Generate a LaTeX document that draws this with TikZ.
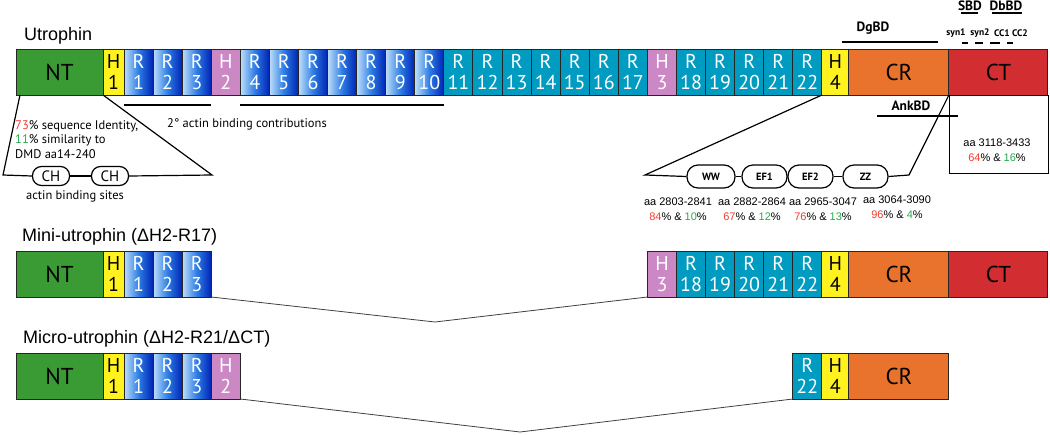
\documentclass[tikz,border=0pt]{standalone}
\usepackage{fontspec}
\setmainfont{Liberation Sans}
\newfontfamily\myriad{PT Sans}
\usetikzlibrary{positioning}

\definecolor{ntGreen}{RGB}{58,154,52}
\definecolor{hYellow}{RGB}{255,242,30}
\definecolor{hPink}{RGB}{204,136,196}
\definecolor{rTeal}{RGB}{0,155,192}
\definecolor{rLight}{RGB}{190,222,250}
\definecolor{rMid}{RGB}{45,125,228}
\definecolor{rDark}{RGB}{0,35,180}
\definecolor{crOrange}{RGB}{233,115,45}
\definecolor{ctRed}{RGB}{210,45,48}
\definecolor{pctRed}{RGB}{240,60,50}
\definecolor{pctGreen}{RGB}{40,170,80}

\newcommand{\idp}[1]{\textcolor{pctRed}{#1}}
\newcommand{\simp}[1]{\textcolor{pctGreen}{#1}}

\begin{document}
\begin{tikzpicture}[
    x=1pt, y=-1pt,
    dom/.style={draw=black!85, line width=1pt, inner sep=0pt, outer sep=0pt, anchor=north west,
        minimum height=46pt, align=center, font=\myriad\fontsize{20}{21}\selectfont},
    ntbox/.style={dom, fill=ntGreen, minimum width=87pt, font=\myriad\fontsize{23}{24}\selectfont},
    helix/.style={dom, fill=hYellow, minimum width=#1},
    hinge/.style={dom, fill=hPink, text=white, minimum width=29.08pt},
    rblue/.style={dom, left color=rLight, right color=rDark, middle color=rMid, text=white, minimum width=29.08pt},
    rteal/.style={dom, fill=rTeal, text=white, minimum width=29.08pt},
    crbox/.style={ntbox, fill=crOrange, minimum width=100pt},
    ctbox/.style={ntbox, fill=ctRed, minimum width=99pt},
    title/.style={anchor=west, inner sep=0pt, font=\fontsize{18}{20}\selectfont},
    note/.style={inner sep=0pt, font=\myriad\fontsize{12.5}{14.5}\selectfont},
    aanote/.style={inner sep=0pt, align=center, font=\fontsize{11}{15}\selectfont},
    module/.style={draw, line width=1.2pt, rounded corners=9pt, inner sep=0pt, minimum height=19pt, minimum width=37pt, font=\myriad\fontsize{15}{16}\selectfont},
    motif/.style={draw, line width=1.2pt, rounded corners=11pt, inner sep=0pt, minimum height=23pt, font=\myriad\bfseries\fontsize{10.5}{12}\selectfont},
    bd/.style={inner sep=0pt, font=\myriad\bfseries\fontsize{13.5}{15}\selectfont},
    subbd/.style={inner sep=0pt, font=\myriad\bfseries\fontsize{9.5}{10}\selectfont},
    fan/.style={line width=1.2pt},
    bar/.style={line width=2pt},
    joint/.style={draw=black!75, line width=0.8pt}
]
    \useasboundingbox (0,0) rectangle (1050,434);

    % full-length utrophin
    \node[title] (uTitle) at (24,36) {Utrophin};
    \node[ntbox] (uNT) at (16,49) {NT};
    \node[helix=21pt] (uH1) at (103,49) {H\\1};
    \foreach \lab/\num/\sty [count=\k] in {R/1/rblue, R/2/rblue, R/3/rblue, H/2/hinge,
        R/4/rblue, R/5/rblue, R/6/rblue, R/7/rblue, R/8/rblue, R/9/rblue, R/10/rblue,
        R/11/rteal, R/12/rteal, R/13/rteal, R/14/rteal, R/15/rteal, R/16/rteal, R/17/rteal,
        H/3/hinge, R/18/rteal, R/19/rteal, R/20/rteal, R/21/rteal, R/22/rteal}
        \node[\sty] (u\lab\num) at ({124+(\k-1)*29.08}, 49) {\lab\\\num};
    \node[helix=27pt] (uH4) at (uR22.north east) {H\\4};
    \node[crbox] (uCR) at (uH4.north east) {CR};
    \node[ctbox] (uCT) at (uCR.north east) {CT};

    % binding domains
    \node[bd] (dgbd) at (873,28) {DgBD};
    \draw[bar] (842,42) -- (938,42);
    \node[bd] (sbd) at (970,6) {SBD};
    \draw[bar] (961,13) -- (978,13);
    \node[bd] (dbbd) at (1006,6) {DbBD};
    \draw[bar] (992,13) -- (1022,13);
    \foreach \txt/\xc in {syn1/956, syn2/980, CC1/1002, CC2/1020}
        \node[subbd] (sub\txt) at (\xc,33) {\txt};
    \foreach \xa/\xb in {962/968, 975/983, 990/1000, 1007/1013}
        \draw[bar] (\xa,43) -- (\xb,43);
    \node[bd] (ankbd) at (911,106) {AnkBD};
    \draw[bar] (877,116) -- (958,116);

    % actin binding
    \draw[fan] ([yshift=-10pt]uR1.south west) -- ([yshift=-10pt]uR3.south east);
    \draw[fan] ([yshift=-10pt]uR4.south west) -- ([yshift=-10pt]uR10.south east);
    \node[note] (contrib) at (247,124) {2\textdegree{} actin binding contributions};
    \node[note, anchor=north west, align=left] (ntNote) at (15,120)
        {\idp{73}\% sequence Identity,\\\simp{11}\% similarity to\\DMD aa14-240};
    \coordinate (chL) at (3,175);
    \coordinate (chR) at (212,175);
    \node[module] (ch1) at (51,176) {CH};
    \node[module] (ch2) at (110,176) {CH};
    \draw[fan] ([xshift=4pt]uNT.south west) -- (chL) -- (ch1.west);
    \draw[fan] (ch1.east) -- (ch2.west);
    \draw[fan] (ch2.east) -- (chR) -- (uNT.south east);
    \node[note] (absites) at (75,196) {actin binding sites};

    % cysteine-rich region
    \coordinate (ankL) at (645,175);
    \coordinate (ankR) at (909,175);
    \node[motif, minimum width=48pt] (ww) at (711,176.5) {WW};
    \node[motif, minimum width=45pt] (ef1) at (764.5,176.5) {EF1};
    \node[motif, minimum width=45pt] (ef2) at (810.5,176.5) {EF2};
    \node[motif, minimum width=45pt] (zz) at (865.5,176.5) {ZZ};
    \draw[fan] (uH4.south west) -- (ankL) -- (ww.west);
    \draw[fan] (ww.east) -- (ef1.west);
    \draw[fan] (ef2.east) -- (zz.west);
    \draw[fan] (zz.east) -- (ankR) -- (uCR.south east);
    \node[aanote] (aaWW) at (678,209) {aa 2803-2841\\\idp{84}\% \& \simp{10}\%};
    \node[aanote] (aaEF1) at (752,209) {aa 2882-2864\\\idp{67}\% \& \simp{12}\%};
    \node[aanote] (aaEF2) at (823,209) {aa 2965-3047\\\idp{76}\% \& \simp{13}\%};
    \node[aanote] (aaZZ) at (897,207) {aa 3064-3090\\\idp{96}\% \& \simp{4}\%};

    % C-terminus
    \node[draw, line width=1.2pt, anchor=north west, minimum width=99pt, minimum height=78pt] (ctInfo) at (uCT.south west) {};
    \node[aanote] (aaCT) at (997,150) {aa 3118-3433\\\idp{64}\% \& \simp{16}\%};

    % mini-utrophin
    \node[title] (mTitle) at (22,237) {Mini-utrophin (ΔH2-R17)};
    \node[ntbox] (mNT) at (16,251) {NT};
    \node[helix=21pt] (mH1) at (mNT.north east) {H\\1};
    \node[rblue] (mR1) at (mH1.north east) {R\\1};
    \node[rblue] (mR2) at (mR1.north east) {R\\2};
    \node[rblue] (mR3) at (mR2.north east) {R\\3};
    \node[hinge] (mH3) at (uH3.north west |- mNT.north) {H\\3};
    \foreach \num in {18,...,22}
        \node[rteal] (mR\num) at (uR\num.north west |- mNT.north) {R\\\num};
    \node[helix=27pt] (mH4) at (mR22.north east) {H\\4};
    \node[crbox] (mCR) at (mH4.north east) {CR};
    \node[ctbox] (mCT) at (mCR.north east) {CT};
    \coordinate (mV) at (435,322);
    \draw[joint] (mR3.south east) -- (mV) -- (mH3.south west);

    % micro-utrophin
    \node[title] (cTitle) at (23,339) {Micro-utrophin (ΔH2-R21/ΔCT)};
    \node[ntbox] (cNT) at (16,353) {NT};
    \node[helix=21pt] (cH1) at (cNT.north east) {H\\1};
    \node[rblue] (cR1) at (cH1.north east) {R\\1};
    \node[rblue] (cR2) at (cR1.north east) {R\\2};
    \node[rblue] (cR3) at (cR2.north east) {R\\3};
    \node[hinge] (cH2) at (cR3.north east) {H\\2};
    \node[rteal] (cR22) at (uR22.north west |- cNT.north) {R\\22};
    \node[helix=27pt] (cH4) at (cR22.north east) {H\\4};
    \node[crbox] (cCR) at (cH4.north east) {CR};
    \coordinate (cV) at (520,432);
    \draw[joint] (cH2.south east) -- (cV) -- (cR22.south west);
\end{tikzpicture}
\end{document}
